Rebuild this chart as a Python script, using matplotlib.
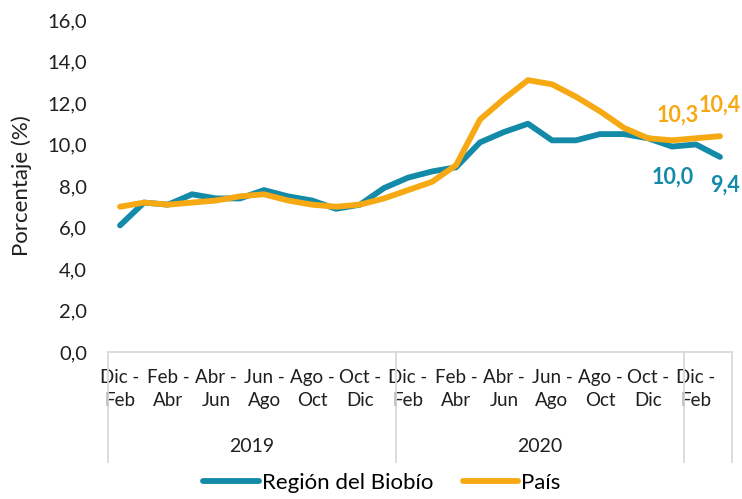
import matplotlib.pyplot as plt
from matplotlib.ticker import FuncFormatter

plt.rcParams['font.family'] = ['Lato', 'DejaVu Sans']

periods = ['Dic - Feb', 'Ene - Mar', 'Feb - Abr', 'Mar - May', 'Abr - Jun', 'May - Jul',
           'Jun - Ago', 'Jul - Sep', 'Ago - Oct', 'Sep - Nov', 'Oct - Dic', 'Nov - Ene'] * 2 \
          + ['Dic - Feb', 'Ene - Mar']
years = [('2019', 12), ('2020', 12), ('', 2)]

biobio = [6.1, 7.2, 7.1, 7.6, 7.4, 7.4, 7.8, 7.5, 7.3, 6.9, 7.1, 7.9,
          8.4, 8.7, 8.9, 10.1, 10.6, 11.0, 10.2, 10.2, 10.5, 10.5, 10.3, 9.9,
          10.0, 9.4]
pais = [7.0, 7.2, 7.1, 7.2, 7.3, 7.5, 7.6, 7.3, 7.1, 7.0, 7.1, 7.4,
        7.8, 8.2, 9.0, 11.2, 12.2, 13.1, 12.9, 12.3, 11.6, 10.8, 10.3, 10.2,
        10.3, 10.4]

teal = '#138aa7'
orange = '#f6a913'
txt = '#1f1f1f'

fig = plt.figure(figsize=(7.42, 4.99), dpi=100)
ax = fig.add_axes([0.1456, 0.2946, 0.8409, 0.6654])

x = range(len(periods))
ax.plot(x, biobio, color=teal, lw=4.2, solid_capstyle='round', solid_joinstyle='round',
        label='Región del Biobío')
ax.plot(x, pais, color=orange, lw=4.2, solid_capstyle='round', solid_joinstyle='round',
        label='País')

ax.set_xlim(-0.5, len(periods) - 0.5)
ax.set_ylim(0, 16)
ax.set_yticks(range(0, 17, 2))
ax.yaxis.set_major_formatter(FuncFormatter(lambda v, p: f'{v:.1f}'.replace('.', ',')))
ax.tick_params(axis='y', length=0, labelsize=14.5, pad=15, colors=txt)
ax.set_ylabel('Porcentaje (%)', fontsize=16, labelpad=11, color=txt)

ticks = list(range(0, len(periods), 2))
ax.set_xticks(ticks)
ax.set_xticklabels([periods[i].replace(' - ', ' -\n') for i in ticks], fontsize=13.5,
                   linespacing=1.45, color=txt)
ax.tick_params(axis='x', length=0, pad=12)

for s in ['top', 'right', 'left']:
    ax.spines[s].set_visible(False)
ax.spines['bottom'].set_color('#d9d9d9')
ax.spines['bottom'].set_linewidth(1.3)

# group separators and year labels
trans = ax.get_xaxis_transform()
start = -0.5
ax.plot([start, start], [0, -0.33], color='#d9d9d9', lw=1.3, transform=trans, clip_on=False)
for name, n in years:
    end = start + n
    ax.plot([end, end], [0, -0.33], color='#d9d9d9', lw=1.3, transform=trans, clip_on=False)
    if name:
        ax.text((start + end) / 2, -0.285, name, transform=trans, ha='center', va='center',
                fontsize=14, color=txt)
    start = end

# data labels
fmt = lambda v: f'{v:.1f}'.replace('.', ',')
ax.annotate(fmt(pais[-2]), (len(pais) - 2, pais[-2]), xytext=(-18, 23), textcoords='offset pixels',
            ha='center', va='center', color=orange, fontsize=15.5, fontweight='bold')
ax.annotate(fmt(pais[-1]), (len(pais) - 1, pais[-1]), xytext=(0, 31), textcoords='offset pixels',
            ha='center', va='center', color=orange, fontsize=15.5, fontweight='bold')
ax.annotate(fmt(biobio[-2]), (len(biobio) - 2, biobio[-2]), xytext=(-23, -33), textcoords='offset pixels',
            ha='center', va='center', color=teal, fontsize=15.5, fontweight='bold')
ax.annotate(fmt(biobio[-1]), (len(biobio) - 1, biobio[-1]), xytext=(5, -28), textcoords='offset pixels',
            ha='center', va='center', color=teal, fontsize=15.5, fontweight='bold')

fig.legend(loc='lower center', bbox_to_anchor=(0.515, -0.028), ncol=2, frameon=False,
           fontsize=16, handlelength=2.5, columnspacing=1.3, handletextpad=0.15)

fig.savefig('out.png', dpi=100)
